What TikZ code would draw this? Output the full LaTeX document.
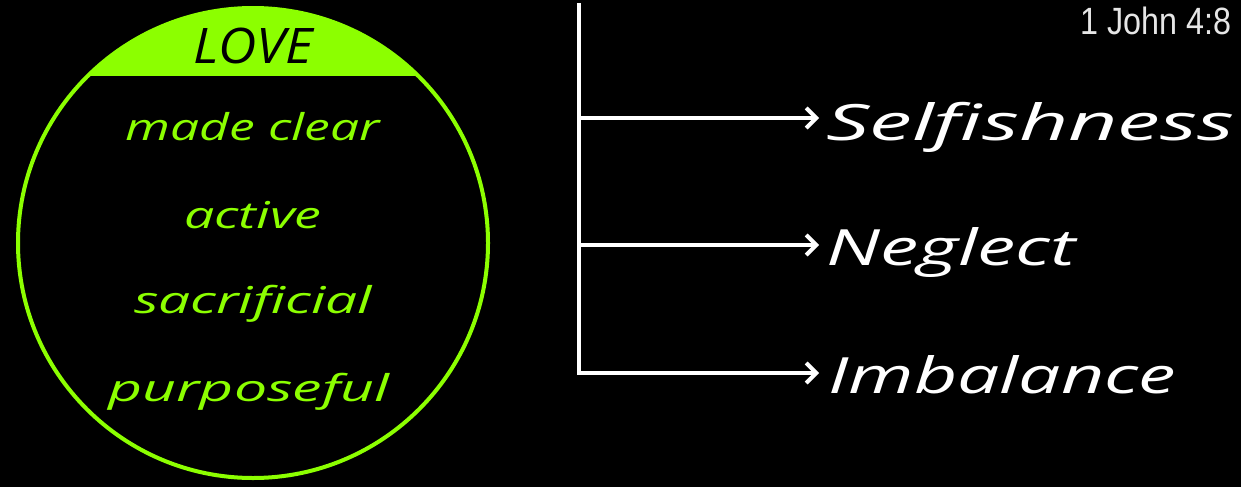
\documentclass[tikz,border=0pt]{standalone}
\usepackage{fontspec}
\usetikzlibrary{arrows.meta}
\newfontfamily\handw{Open Sans}[FakeStretch=1.45]
\newfontfamily\handwide{Open Sans}[FakeStretch=1.58]
\newfontfamily\handn{Open Sans}[FakeStretch=1.08]
\newfontfamily\condf{Liberation Sans}[FakeStretch=0.85]
\definecolor{lovegreen}{HTML}{8CFF00}
\definecolor{refgray}{HTML}{E6E6E6}
\begin{document}
\begin{tikzpicture}[x=0.5pt,y=-0.5pt,
  greentext/.style={text=lovegreen,font=\handw\itshape\fontsize{18.5}{20}\selectfont,anchor=base,inner sep=0pt},
  whitetext/.style={text=white,font=\handwide\itshape\fontsize{25}{28}\selectfont,anchor=base west,inner sep=0pt},
  branch/.style={draw=white,line width=2pt},
  arrowline/.style={branch,-{Straight Barb[length=5pt,width=10pt,line width=2pt]}}]
\fill[black] (0,0) rectangle (1241,487);
\useasboundingbox (0,0) rectangle (1241,487);
% circle with filled cap
\coordinate (c) at (253,243);
\begin{scope}
  \clip (c) circle[radius=117.5pt];
  \fill[lovegreen] (0,0) rectangle (500,76);
\end{scope}
\draw[lovegreen,line width=2pt] (c) circle[radius=117.5pt];
\node[text=black,font=\handn\itshape\fontsize{24.5}{26}\selectfont,anchor=base,inner sep=0pt] (love) at (253,63) {LOVE};
\node[greentext,xscale=0.96,transform shape] (made) at (253,140) {made clear};
\node[greentext] (active) at (253,228) {active};
\node[greentext,xscale=1.06,transform shape] (sacr) at (253,313) {sacrificial};
\node[greentext,xscale=1.1,transform shape] (purp) at (249,401) {purposeful};
% reference
\node[text=refgray,font=\condf\fontsize{19}{21}\selectfont,anchor=base east,inner sep=0pt] (ref) at (1232,34) {1 John 4:8};
% branches
\node[whitetext,xscale=1.085,transform shape] (self) at (826,140) {Selfishness};
\node[whitetext,xscale=0.97,transform shape] (negl) at (826,265) {Neglect};
\node[whitetext,xscale=0.95,transform shape] (imb) at (828,393) {Imbalance};
\coordinate (top) at (579,3);
\coordinate (j1) at (579,118);
\coordinate (j2) at (579,245);
\coordinate (j3) at (579,373);
\coordinate (e1) at (819,118);
\coordinate (e2) at (819,245);
\coordinate (e3) at (819,373);
\draw[arrowline,line join=miter] (top) -- (j3) -- (e3);
\draw[arrowline] (j1) -- (e1);
\draw[arrowline] (j2) -- (e2);
\end{tikzpicture}
\end{document}
